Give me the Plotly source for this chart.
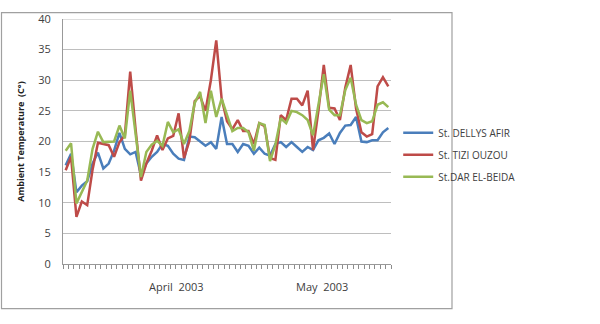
import plotly.graph_objects as go

days = list(range(61))
dellys = [16.1, 18.0, 11.7, 12.8, 13.5, 16.4, 18.2, 15.6, 16.4, 18.5,
          21.4, 18.8, 17.9, 18.3, 14.5, 16.4, 17.5, 18.3, 19.6, 19.3,
          18.0, 17.2, 17.0, 20.8, 20.7, 20.0, 19.3, 19.9, 18.8, 24.0,
          19.6, 19.6, 18.3, 19.6, 19.3, 18.0, 19.0, 18.0, 17.7, 19.6,
          19.9, 19.1, 19.9, 19.1, 18.3, 19.1, 18.6, 20.2, 20.6, 21.3,
          19.6, 21.4, 22.6, 22.7, 24.0, 20.0, 19.9, 20.2, 20.2, 21.5, 22.2]
tizi = [15.3, 17.5, 7.7, 10.2, 9.6, 15.4, 19.8, 19.6, 19.4, 17.5,
        19.9, 21.0, 31.4, 22.0, 13.6, 16.4, 18.5, 21.0, 18.6, 20.5,
        20.9, 24.6, 17.3, 20.1, 26.6, 27.4, 25.0, 30.0, 36.5, 27.0,
        23.3, 22.0, 23.5, 21.7, 21.7, 19.6, 23.0, 22.5, 17.3, 17.0,
        24.3, 23.5, 27.0, 27.0, 25.9, 28.3, 18.6, 25.0, 32.5, 25.5,
        25.4, 23.5, 28.8, 32.5, 25.4, 21.5, 20.8, 21.2, 29.0, 30.5, 29.0]
dar = [18.5, 19.7, 9.9, 11.7, 13.6, 18.8, 21.6, 19.9, 19.9, 20.0,
       22.6, 20.5, 28.3, 21.0, 14.2, 18.3, 19.5, 20.1, 19.3, 23.2,
       21.5, 22.0, 19.6, 21.7, 26.3, 28.1, 23.0, 28.3, 24.0, 27.0,
       24.3, 21.7, 22.2, 22.2, 21.5, 18.5, 23.0, 22.7, 16.8, 19.5,
       23.8, 23.0, 25.0, 24.8, 24.3, 23.5, 21.0, 26.0, 31.0, 25.2,
       24.3, 24.3, 28.4, 30.4, 26.0, 23.5, 23.0, 23.3, 26.0, 26.4, 25.6]
month_pos = [20.7, 47.6]
month_labels = ["April  2003", "May  2003"]
y_top = 40

names = ["St. DELLYS AFIR", "St. TIZI OUZOU", "St.DAR EL-BEIDA"]
colors = ["#4A7EBB", "#BE4B48", "#98B954"]

# category boundaries (tick marks between days)
boundaries = [d - 0.5 for d in days] + [days[-1] + 0.5]

fig = go.Figure()
for i, (nm, ys, c) in enumerate(zip(names, [dellys, tizi, dar], colors)):
    fig.add_trace(go.Scatter(x=days, y=ys, mode="lines", name=nm,
                             legendgroup=str(i),
                             line=dict(color=c, width=2.5)))

fig.update_layout(
    width=600, height=324,
    margin=dict(l=63, r=209, t=11, b=60),
    paper_bgcolor="white", plot_bgcolor="white",
    font=dict(family="Open Sans", color="#404040"),
    legend=dict(x=1.022, y=0.595, xanchor="left", yanchor="top",
                font=dict(size=10, color="#404040"),
                tracegroupgap=3, bgcolor="rgba(0,0,0,0)"),
    xaxis=dict(range=[boundaries[0], boundaries[-1]], tickmode="array",
               tickvals=boundaries, ticktext=[""] * len(boundaries),
               ticks="outside", ticklen=4, tickwidth=1, tickcolor="#8C8C8C",
               showgrid=False, showline=True, linecolor="#999999",
               linewidth=1, zeroline=False),
    yaxis=dict(range=[0, y_top], tickmode="linear", tick0=0, dtick=5,
               showgrid=True, gridcolor="#BEBEBE",
               gridwidth=1, showline=True, linecolor="#999999",
               zeroline=False, ticks="", ticklabelstandoff=9,
               tickfont=dict(size=11, color="#404040"),
               title=dict(text="<b>Ambient Temperature  (C°)</b>",
                          font=dict(size=9, color="#202020"), standoff=12)),
    showlegend=True,
)
for xp, lbl in zip(month_pos, month_labels):
    fig.add_annotation(x=xp, xref="x", y=-0.09, yref="paper",
                       text=lbl, showarrow=False, yanchor="middle",
                       font=dict(size=11, color="#404040"))
fig.add_shape(type="line", xref="paper", yref="y", x0=0, x1=1,
              y0=y_top, y1=y_top, line=dict(color="#BEBEBE", width=1),
              layer="below")
fig.add_shape(type="rect", xref="paper", yref="paper",
              x0=(1.5 - 63) / 328, x1=(452 - 63) / 328,
              y0=(264 - 310) / 253, y1=(264 - 4.5) / 253,
              line=dict(color="#A0A0A0", width=1.2), layer="below")

fig.write_html("out.html")
